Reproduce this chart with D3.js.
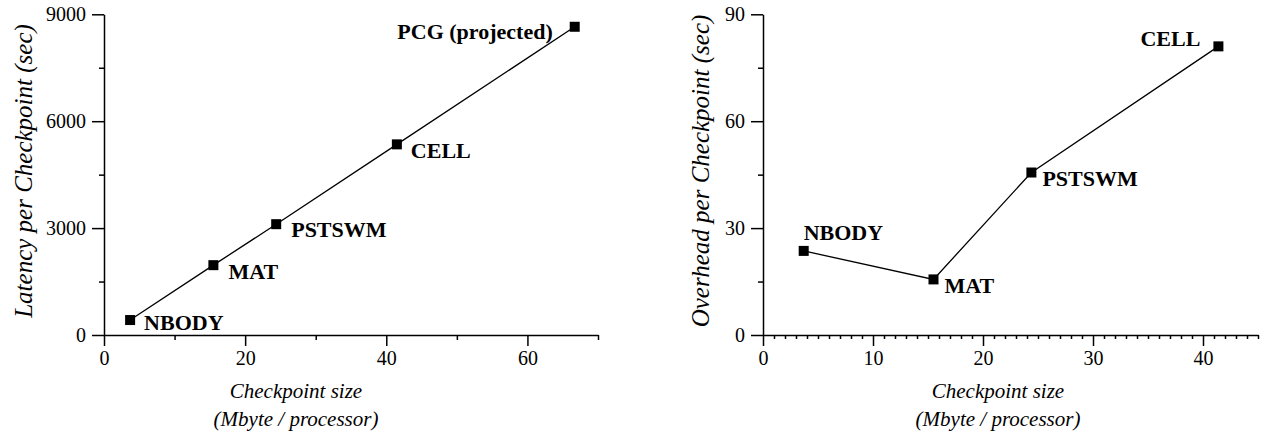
<!DOCTYPE html>
<html>
<head>
<meta charset="utf-8">
<script src="https://cdn.jsdelivr.net/npm/d3@7"></script>
</head>
<body style="margin:0;background:#fff">
<svg id="chart" width="1263" height="436" font-family="Liberation Serif"></svg>
<script>
// ---- Data ----
const latencyApps   = ["NBODY", "MAT", "PSTSWM", "CELL", "PCG (projected)"];
const latencySize   = [3.7, 15.5, 24.4, 41.5, 66.7];
const latencyValues = [420, 1960, 3110, 5350, 8650];

const overheadApps   = ["NBODY", "MAT", "PSTSWM", "CELL"];
const overheadSize   = [3.7, 15.5, 24.4, 41.4];
const overheadValues = [23.6, 15.6, 45.6, 81.0];

const leftXTicks  = [0, 20, 40, 60];
const leftXMinor  = [10, 30, 50, 70];
const leftYTicks  = [0, 3000, 6000, 9000];
const leftYMinor  = [1500, 4500, 7500];
const rightXTicks = [0, 10, 20, 30, 40];
const rightXMinor = d3.range(1, 46).filter(v => v % 10 !== 0);
const rightYTicks = [0, 30, 60, 90];
const rightYMinor = [15, 45, 75];

const FONT = "Liberation Serif";
const svg = d3.select("#chart");

function txt(sel, size, opts = {}) {
  sel.attr("font-family", FONT).style("font-family", FONT)
     .attr("font-size", size).style("font-size", size + "px")
     .attr("fill", "#000");
  if (opts.bold) sel.attr("font-weight", "bold").style("font-weight", "bold");
  if (opts.italic) sel.attr("font-style", "italic").style("font-style", "italic");
  return sel;
}

function panel(cfg) {
  const x = d3.scaleLinear().domain(cfg.xDomain).range([cfg.x0, cfg.x1]);
  const y = d3.scaleLinear().domain(cfg.yDomain).range([cfg.y0, cfg.y1]);
  const g = svg.append("g");

  // minor ticks
  g.append("g").attr("transform", `translate(0,${cfg.y0})`)
    .call(d3.axisBottom(x).tickValues(cfg.xMinor).tickSize(cfg.minorX).tickFormat(""))
    .call(a => a.select(".domain").remove());
  g.append("g").attr("transform", `translate(${cfg.x0},0)`)
    .call(d3.axisLeft(y).tickValues(cfg.yMinor).tickSize(5).tickFormat(""))
    .call(a => a.select(".domain").remove());

  // major axes
  const xa = g.append("g").attr("transform", `translate(0,${cfg.y0})`)
    .call(d3.axisBottom(x).tickValues(cfg.xTicks).tickSize(11).tickPadding(5).tickSizeOuter(0).tickFormat(d3.format("d")));
  const ya = g.append("g").attr("transform", `translate(${cfg.x0},0)`)
    .call(d3.axisLeft(y).tickValues(cfg.yTicks).tickSize(12).tickPadding(6).tickSizeOuter(0).tickFormat(d3.format("d")));
  g.selectAll("g").attr("font-family", FONT);
  [xa, ya].forEach(a => txt(a.selectAll("text"), 20));
  g.selectAll(".domain, .tick line").attr("stroke", "#000").attr("stroke-width", 1.5);

  // line
  const pts = cfg.xs.map((v, i) => [v, cfg.ys[i]]);
  g.append("path").datum(pts)
    .attr("fill", "none").attr("stroke", "#000").attr("stroke-width", 1.3)
    .attr("d", d3.line().x(d => x(d[0])).y(d => y(d[1])));
  g.selectAll("rect.m").data(pts).enter().append("rect")
    .attr("x", d => x(d[0]) - 5).attr("y", d => y(d[1]) - 5)
    .attr("width", 10).attr("height", 10).attr("fill", "#000");

  // labels
  txt(g.selectAll("text.lab").data(cfg.names).enter().append("text")
    .attr("x", (d, i) => x(cfg.xs[i]) + cfg.lab[i][0])
    .attr("y", (d, i) => y(cfg.ys[i]) + cfg.lab[i][1])
    .attr("text-anchor", (d, i) => cfg.lab[i][2])
    .text(d => d), 22, { bold: true });

  // axis titles
  txt(g.append("text")
    .attr("transform", `translate(${cfg.yTitleX},${cfg.yTitleY}) rotate(-90)`)
    .attr("text-anchor", "middle")
    .text(cfg.yTitle), 25, { italic: true });
  txt(g.append("text").attr("x", cfg.xTitleX).attr("y", 398)
    .attr("text-anchor", "middle")
    .text("Checkpoint size"), 21, { italic: true });
  txt(g.append("text").attr("x", cfg.xTitleX).attr("y", 426)
    .attr("text-anchor", "middle")
    .text("(Mbyte / processor)"), 21, { italic: true });
}

panel({
  xDomain: [0, 70], yDomain: [0, 9000],
  x0: 104, x1: 598, y0: 335, y1: 14.3,
  xTicks: leftXTicks, xMinor: leftXMinor, yTicks: leftYTicks, yMinor: leftYMinor, minorX: 5,
  xs: latencySize, ys: latencyValues, names: latencyApps,
  lab: [[14, 10, "start"], [15, 14, "start"], [15, 13, "start"], [14, 14, "start"], [-22, 12, "end"]],
  yTitle: "Latency per Checkpoint (sec)", yTitleX: 32, yTitleY: 171,
  xTitleX: 296
});

panel({
  xDomain: [0, 45], yDomain: [0, 90],
  x0: 763, x1: 1258, y0: 335, y1: 14.3,
  xTicks: rightXTicks, xMinor: rightXMinor, yTicks: rightYTicks, yMinor: rightYMinor, minorX: 4,
  xs: overheadSize, ys: overheadValues, names: overheadApps,
  lab: [[0, -11, "start"], [11, 14, "start"], [11, 13, "start"], [-18, 0, "end"]],
  yTitle: "Overhead per Checkpoint (sec)", yTitleX: 709, yTitleY: 171,
  xTitleX: 998
});
</script>
</body>
</html>
